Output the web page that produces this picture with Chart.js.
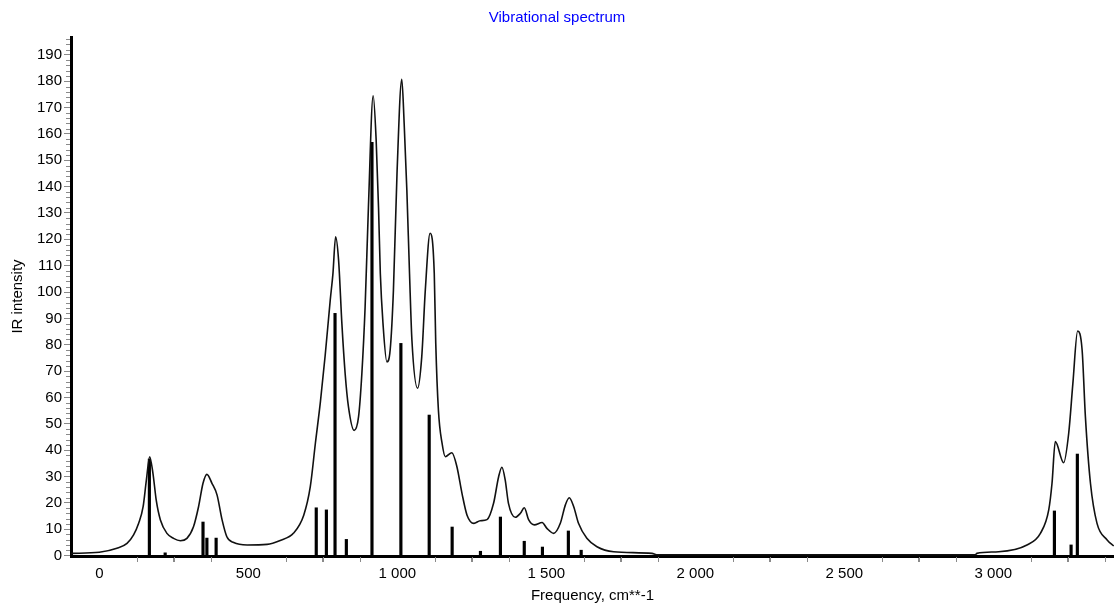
<!DOCTYPE html>
<html>
<head>
<meta charset="utf-8">
<title>Vibrational spectrum</title>
<script src="https://cdn.jsdelivr.net/npm/chart.js@4.4.1/dist/chart.umd.min.js"></script>
<style>
  html, body { margin: 0; padding: 0; background: #fff; }
  #wrap { width: 1114px; height: 606px; }
</style>
</head>
<body>
<div id="wrap"><canvas id="chart" width="1114" height="606"></canvas></div>
<script>
    // broadened IR spectrum (cm-1 / intensity)
    const curveFreq = [-95, 0, 59, 93, 115, 132, 147, 158, 169, 180, 191, 205, 227, 249, 272, 294, 316, 333, 348, 361,
        378, 395, 412, 428, 451, 496, 563, 607, 652, 686, 708, 725, 742, 758, 775, 784, 793, 803, 814, 825,
        836, 855, 870, 881, 892, 903, 919, 929, 937, 943, 952, 965, 976, 987, 999, 1015, 1023, 1032, 1041, 1049,
        1068, 1082, 1094, 1110, 1124, 1129, 1138, 1150, 1161, 1183, 1200, 1217, 1234, 1257, 1278, 1301, 1323, 1340, 1351, 1362,
        1373, 1396, 1413, 1426, 1441, 1460, 1486, 1502, 1525, 1547, 1564, 1577, 1592, 1608, 1636, 1670, 1726, 1855, 1870, 2940,
        2945, 3018, 3113, 3158, 3186, 3197, 3208, 3236, 3253, 3267, 3283, 3298, 3309, 3326, 3348, 3382, 3404];
    const curveInt = [0.8, 1.2, 2.7, 4.6, 7.8, 12.2, 18.5, 28.7, 37.5, 31.2, 21, 13.5, 8.4, 6.5, 5.6, 6.5, 10.9, 18.5, 27.4, 30.8,
        27.4, 23, 13.5, 7.1, 4.9, 4.0, 4.2, 5.7, 8.5, 15.3, 26.1, 42.5, 58.4, 76, 97, 107, 121, 112, 88, 69,
        56.5, 47.5, 52.7, 69, 94.4, 132, 174.5, 157.7, 132, 107, 88, 73.5, 78, 100.8, 145, 180.7, 164, 138.7, 107, 81.8,
        63.5, 75.4, 100.8, 122.3, 107, 80.6, 55, 42.7, 37.5, 39, 33.7, 23.6, 15.3, 12.2, 13.2, 13.6, 19.8, 29.9, 33.5, 28.7,
        19.8, 14.5, 16, 18.1, 13.5, 11.6, 12.5, 10.3, 8.4, 12.2, 19.2, 21.9, 18.5, 12.2, 6.5, 3.3, 1.4, 0.8, 0.3, 0.3,
        0.8, 1.4, 4.0, 8.4, 17.3, 27.4, 43.2, 35.2, 46.4, 65.3, 85.2, 78, 52.7, 27.4, 12.2, 5.9, 3.6];

    // computed lines (sticks)
    const stickFreq = [168, 221, 348, 361, 392, 728, 762, 791, 829, 915, 1012, 1107, 1184, 1279, 1346, 1426, 1487, 1574, 1617, 3205, 3261, 3282];
    const stickInt = [36.6, 1, 12.7, 6.6, 6.6, 18.1, 17.3, 91.9, 6.1, 156.8, 80.5, 53.3, 10.8, 1.6, 14.6, 5.4, 3.2, 9.3, 2.0, 16.9, 4, 38.5];

    const xTicks = [0, 500, 1000, 1500, 2000, 2500, 3000];
    const yTicks = [0, 10, 20, 30, 40, 50, 60, 70, 80, 90, 100, 110, 120, 130, 140, 150, 160, 170, 180, 190];
    const xMinorStep = 125;
    const yMinorStep = 2;

    const fmt = v => String(v).replace(/\B(?=(\d{3})+(?!\d))/g, ' ');

    // little grey ticks between the labelled ones
    const minorTicks = {
        id: 'minorTicks',
        afterDraw(chart) {
            const {ctx, chartArea, scales: {x, y}} = chart;
            ctx.save();
            ctx.strokeStyle = '#8a8a8a';
            ctx.lineWidth = 1;
            ctx.beginPath();
            for (let v = yMinorStep; v < y.max; v += yMinorStep) {
                if (yTicks.includes(v)) continue;
                const py = Math.round(y.getPixelForValue(v)) + 0.5;
                ctx.moveTo(chartArea.left - 1, py);
                ctx.lineTo(chartArea.left - 5, py);
            }
            for (let v = xMinorStep; v < x.max; v += xMinorStep) {
                if (xTicks.includes(v)) continue;
                const px = Math.round(x.getPixelForValue(v)) + 0.5;
                ctx.moveTo(px, chartArea.bottom + 1);
                ctx.lineTo(px, chartArea.bottom + 6);
            }
            ctx.stroke();
            ctx.restore();
        }
    };

    const font = { family: 'Arial, "Liberation Sans", sans-serif', size: 15 };

    const ctx = document.getElementById('chart').getContext('2d');
    new Chart(ctx, {
        type: 'line',
        data: {
            datasets: [{
                type: 'line',
                data: curveFreq.map((f, i) => ({ x: f, y: curveInt[i] })),
                borderColor: '#111',
                borderWidth: 1.6,
                pointRadius: 0,
                cubicInterpolationMode: 'monotone',
                fill: false
            }, {
                type: 'bar',
                data: stickFreq.map((f, i) => ({ x: f, y: stickInt[i] })),
                backgroundColor: '#000',
                barThickness: 2.5,
                grouped: false
            }]
        },
        options: {
            responsive: false,
            animation: false,
            layout: { padding: 0 },
            plugins: {
                legend: { display: false },
                tooltip: { enabled: false },
                title: {
                    display: true,
                    text: 'Vibrational spectrum',
                    color: '#0000ff',
                    font: { ...font, weight: 'normal' },
                    padding: { top: 9, bottom: 10 }
                }
            },
            scales: {
                x: {
                    type: 'linear',
                    min: -95,
                    max: 3405,
                    offset: false,
                    afterBuildTicks: s => { s.ticks = xTicks.map(v => ({ value: v })); },
                    afterFit: s => { s.height = 50; },
                    border: { display: true, color: '#000', width: 3 },
                    grid: { drawOnChartArea: false, drawTicks: true, tickLength: 6, tickColor: '#8a8a8a' },
                    ticks: { color: '#000', font, padding: 3, maxRotation: 0, callback: v => fmt(v) },
                    title: { display: true, text: 'Frequency, cm**-1', color: '#000', font, padding: { top: 0, bottom: 1 } }
                },
                y: {
                    min: -0.2,
                    max: 196.8,
                    afterBuildTicks: s => { s.ticks = yTicks.map(v => ({ value: v })); },
                    afterFit: s => { s.width = 71; },
                    border: { display: true, color: '#000', width: 3 },
                    grid: { drawOnChartArea: false, drawTicks: true, tickLength: 7, tickColor: '#8a8a8a' },
                    ticks: { color: '#000', font, padding: 2 },
                    title: { display: true, text: 'IR intensity', color: '#000', font, padding: { top: 9, bottom: 0 } }
                }
            }
        },
        plugins: [minorTicks]
    });
</script>
</body>
</html>
